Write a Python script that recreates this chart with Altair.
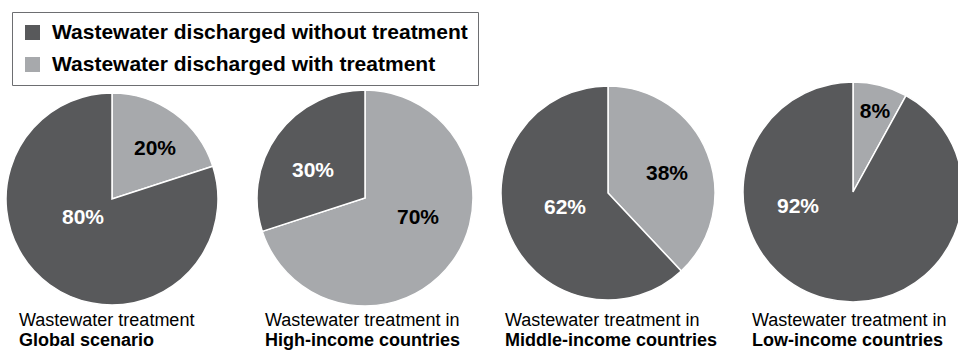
import altair as alt
import pandas as pd

# ---- data -------------------------------------------------------------
regions = ["Global", "High-income", "Middle-income", "Low-income"]
treated_pct = [20, 70, 38, 8]
untreated_pct = [80, 30, 62, 92]
categories = [
    "Wastewater discharged without treatment",
    "Wastewater discharged with treatment",
]
caption_top = [
    "Wastewater treatment",
    "Wastewater treatment in",
    "Wastewater treatment in",
    "Wastewater treatment in",
]
caption_bottom = [
    "Global scenario",
    "High-income countries",
    "Middle-income countries",
    "Low-income countries",
]

# ---- layout -----------------------------------------------------------
W, H = 958, 356
centers = [(112, 199), (365, 198), (608, 193), (853, 192)]
radii = [106, 108, 107, 110]
# label offsets from each pie centre: (treated label, untreated label)
label_offsets = [
    ((43, -50), (-29, 19)),
    ((53, 20), (-52, -27)),
    ((59, -19), (-43, 15)),
    ((22, -80), (-55, 15)),
]
caption_x = [19, 265, 505, 752]
caption_y = (326, 346)

DARK = "#58595b"
LIGHT = "#a7a9ac"
FONT = "Liberation Sans"

rows = []
for i, reg in enumerate(regions):
    cx, cy = centers[i]
    (tdx, tdy), (udx, udy) = label_offsets[i]
    rows.append(dict(region=reg, category=categories[1], value=treated_pct[i],
                     rank=0, label=f"{treated_pct[i]}%", ink="black",
                     lx=cx + tdx, ly=cy + tdy))
    rows.append(dict(region=reg, category=categories[0], value=untreated_pct[i],
                     rank=1, label=f"{untreated_pct[i]}%", ink="white",
                     lx=cx + udx, ly=cy + udy))
df = pd.DataFrame(rows)

captions = pd.DataFrame({
    "top": caption_top,
    "bottom": caption_bottom,
    "x": caption_x,
})

color = alt.Color(
    "category:N",
    scale=alt.Scale(domain=categories, range=[DARK, LIGHT]),
    legend=alt.Legend(
        orient="none", legendX=12, legendY=12, title=None,
        symbolType="square", symbolSize=225, symbolStrokeWidth=0,
        symbolOpacity=1,
        labelFont=FONT, labelFontWeight="bold", labelFontSize=21,
        labelColor="black", labelLimit=0, labelOffset=9,
        strokeColor="#6d6e71", fillColor="white",
        padding=10, rowPadding=10,
    ),
)

layers = []
for i, reg in enumerate(regions):
    cx, cy = centers[i]
    pie = (
        alt.Chart(df)
        .transform_filter(alt.datum.region == reg)
        .mark_arc(radius=radii[i], stroke="white", strokeWidth=1.5)
        .encode(
            theta=alt.Theta("value:Q", stack=True,
                            scale=alt.Scale(domain=[0, 100])),
            order=alt.Order("rank:Q"),
            color=color,
            x=alt.value(cx),
            y=alt.value(cy),
        )
    )
    layers.append(pie)

labels = (
    alt.Chart(df)
    .mark_text(font=FONT, fontWeight="bold", fontSize=21,
               align="center", baseline="middle")
    .encode(
        x=alt.X("lx:Q", scale=None, axis=None),
        y=alt.Y("ly:Q", scale=None, axis=None),
        text="label:N",
        color=alt.Color("ink:N", scale=None),
    )
)

cap_top = (
    alt.Chart(captions)
    .mark_text(font=FONT, fontSize=18, align="left", baseline="alphabetic",
               color="black")
    .encode(
        x=alt.X("x:Q", scale=None, axis=None),
        y=alt.value(caption_y[0]),
        text="top:N",
    )
)
cap_bottom = (
    alt.Chart(captions)
    .mark_text(font=FONT, fontSize=18, fontWeight="bold", align="left",
               baseline="alphabetic", color="black")
    .encode(
        x=alt.X("x:Q", scale=None, axis=None),
        y=alt.value(caption_y[1]),
        text="bottom:N",
    )
)

chart = (
    alt.layer(*layers, labels, cap_top, cap_bottom)
    .properties(width=W, height=H, padding=0, autosize="none",
                background="white")
    .configure_view(stroke=None)
)

chart.save("out.html", embed_options={"renderer": "svg", "actions": False})
